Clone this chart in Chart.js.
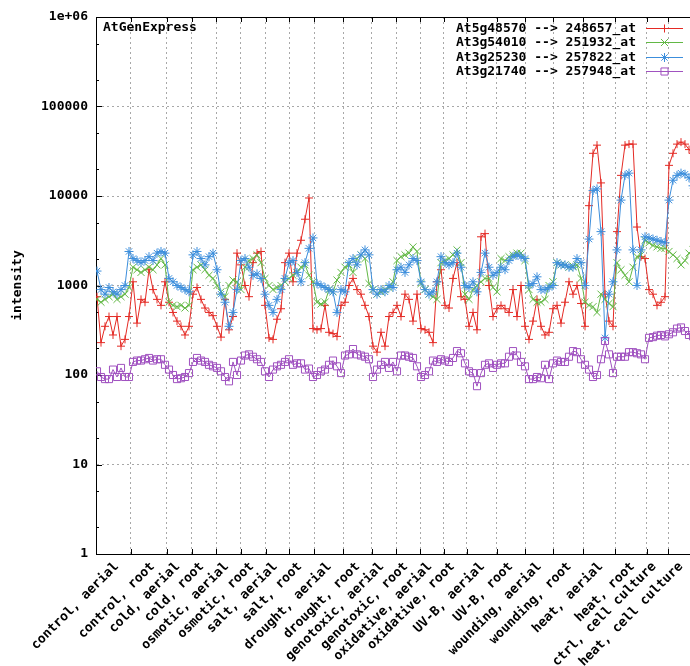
<!DOCTYPE html>
<html>
<head>
<meta charset="utf-8">
<script src="https://cdn.jsdelivr.net/npm/chart.js@4/dist/chart.umd.min.js"></script>
<style>
  html, body { margin: 0; padding: 0; background: #fff; overflow: hidden; }
  #wrap { position: relative; width: 720px; height: 666px; }
</style>
</head>
<body>
<div id="wrap"><canvas id="chart"></canvas></div>
<script>
// conditions shown on the x axis, and where each group ends (sample index)
const conditions = ["control, aerial", "control, root", "cold, aerial", "cold, root",
  "osmotic, aerial", "osmotic, root", "salt, aerial", "salt, root", "drought, aerial",
  "drought, root", "genotoxic, aerial", "genotoxic, root", "oxidative, aerial",
  "oxidative, root", "UV-B, aerial", "UV-B, root", "wounding, aerial", "wounding, root",
  "heat, aerial", "heat, root", "ctrl, cell culture", "heat, cell culture"];
const groupEnds = [8.4, 17.4, 23.7, 29.75, 35.9, 42.2, 48.1, 54.25, 61.6, 68.7, 74.75,
  80.75, 86.75, 92.4, 99.9, 107, 114.1, 121.6, 129.5, 137.4, 142.8, 149.5];

const yTicks = [1, 10, 100, 1000, 10000, 100000, 1000000];

const probeNames = ["At5g48570 --> 248657_at", "At3g54010 --> 251932_at",
  "At3g25230 --> 257822_at", "At3g21740 --> 257948_at"];

// intensities per sample
const at5g48570 = [
  750, 230, 350, 450, 280, 450, 210, 250, 450, 1100, 380, 700, 650, 1500, 900, 700, 600, 1100, 650, 500,
  400, 350, 280, 350, 800, 950, 700, 560, 500, 460, 350, 265, 700, 320, 450, 2300, 1700, 1000, 750, 1800,
  2300, 2400, 600, 260, 250, 420, 550, 1800, 2300, 1100, 2300, 3200, 5500, 9500, 330, 320, 330, 600, 300, 290,
  270, 600, 650, 1000, 1200, 900, 800, 600, 450, 210, 180, 300, 210, 450, 500, 600, 450, 800, 700, 400,
  800, 330, 320, 300, 230, 1100, 1500, 600, 560, 1200, 1800, 750, 700, 350, 500, 320, 3500, 3800, 1000, 450,
  550, 600, 550, 500, 900, 450, 1000, 350, 250, 400, 700, 350, 280, 300, 550, 600, 380, 650, 1100, 800,
  1000, 630, 350, 7800, 30000, 37000, 14000, 800, 400, 350, 4000, 17000, 37000, 38000, 38000, 4500, 2100, 2000, 900, 800,
  600, 650, 750, 22000, 30000, 38000, 40000, 38000, 33000, 30000];
const at3g54010 = [
  700, 650, 700, 750, 800, 700, 750, 800, 950, 1600, 1500, 1400, 1500, 1600, 1500, 1700, 2000, 1700, 650, 600,
  580, 600, 560, 600, 1500, 1600, 1700, 1500, 1300, 1200, 1000, 850, 750, 1000, 1150, 1100, 900, 1600, 1900, 2000,
  2200, 1800, 1200, 1000, 900, 950, 1000, 1100, 1200, 1300, 1400, 1600, 1700, 1300, 1100, 650, 620, 650, 900, 850,
  1150, 1400, 1600, 1700, 1400, 2000, 2200, 2000, 1050, 900, 800, 850, 900, 950, 1100, 1900, 2100, 2200, 2300, 2700,
  2400, 1050, 900, 800, 750, 700, 1800, 1900, 2000, 2200, 2500, 1800, 800, 700, 900, 1000, 1100, 1200, 1200, 950,
  850, 2000, 1900, 2100, 2200, 2300, 2300, 1900, 900, 700, 650, 650, 700, 1000, 1100, 1800, 1700, 1700, 1600, 1650,
  1700, 1200, 650, 600, 580, 500, 800, 700, 630, 580, 1800, 1500, 1300, 1100, 1600, 2100, 2200, 3200, 3000, 2800,
  2700, 2600, 2600, 2400, 2200, 2000, 1700, 1900, 2300, 2500];
const at3g25230 = [
  1450, 900, 800, 950, 850, 800, 900, 1000, 2400, 2000, 1900, 1800, 1900, 2100, 1900, 2300, 2400, 2300, 1200, 1100,
  1000, 950, 900, 850, 2200, 2400, 2000, 1700, 2100, 2300, 1500, 800, 650, 350, 500, 900, 1900, 2000, 1600, 1300,
  1350, 1200, 800, 600, 500, 700, 900, 1200, 1800, 1900, 1400, 1100, 1800, 2600, 3400, 1050, 1000, 950, 900, 850,
  500, 900, 850, 1800, 2000, 1700, 2200, 2500, 2200, 900, 800, 900, 850, 1000, 950, 1500, 1600, 1400, 1700, 2000,
  1900, 1100, 900, 800, 850, 1100, 2100, 1800, 1700, 1800, 2300, 1600, 1000, 950, 1100, 850, 1400, 2300, 1600, 1300,
  1400, 1600, 1500, 1900, 2100, 2200, 2100, 2000, 1000, 1050, 1250, 900, 900, 950, 1000, 1800, 1700, 1700, 1600, 1600,
  2000, 1800, 1000, 3300, 11500, 12000, 4000, 260, 800, 1100, 2500, 9000, 17000, 18000, 2500, 1000, 2500, 3500, 3400, 3300,
  3200, 3100, 3000, 9000, 15000, 17000, 18000, 17500, 16000, 13000];
const at3g21740 = [
  110, 95, 90, 90, 115, 95, 120, 95, 95, 140, 145, 145, 150, 155, 145, 150, 150, 130, 115, 100,
  90, 92, 95, 105, 140, 155, 145, 140, 130, 125, 120, 110, 95, 85, 140, 100, 145, 165, 170, 160,
  150, 140, 110, 95, 115, 125, 130, 140, 150, 130, 135, 135, 115, 118, 95, 100, 110, 115, 130, 145,
  125, 105, 165, 170, 195, 170, 165, 160, 150, 95, 115, 130, 140, 120, 140, 110, 165, 165, 160, 155,
  125, 95, 100, 110, 145, 140, 150, 145, 140, 155, 185, 175, 135, 110, 105, 75, 105, 130, 135, 120,
  130, 135, 135, 160, 185, 165, 140, 125, 90, 90, 95, 92, 130, 90, 135, 145, 140, 140, 160, 185,
  180, 150, 130, 115, 95, 100, 150, 240, 170, 105, 160, 160, 160, 180, 180, 175, 170, 150, 260, 265,
  275, 280, 270, 285, 300, 330, 340, 310, 280, 270];

const plotTitle = "AtGenExpress";

const font = { family: "'DejaVu Sans Mono', monospace", size: 13, weight: 'bold' };

function toPoints(values) {
  return values.map((v, i) => ({ x: i, y: v }));
}

// frame, inward tick marks, corner title and legend, gnuplot style
const decorations = {
  id: 'decorations',
  beforeDatasetsDraw(chart) {
    const { ctx, chartArea: a, scales } = chart;
    ctx.save();
    ctx.strokeStyle = '#000';
    ctx.lineWidth = 1;
    ctx.beginPath();
    groupEnds.forEach(v => {
      const x = Math.round(scales.x.getPixelForValue(v)) + 0.5;
      ctx.moveTo(x, a.bottom); ctx.lineTo(x, a.bottom - 5);
      ctx.moveTo(x, a.top); ctx.lineTo(x, a.top + 5);
    });
    yTicks.forEach(v => {
      const y = Math.round(scales.y.getPixelForValue(v)) + 0.5;
      ctx.moveTo(a.left, y); ctx.lineTo(a.left + 6, y);
      if (v < 1000000) {
        [2, 5].forEach(m => {
          const ym = Math.round(scales.y.getPixelForValue(v * m)) + 0.5;
          ctx.moveTo(a.left, ym); ctx.lineTo(a.left + 3, ym);
        });
      }
    });
    ctx.stroke();
    ctx.strokeRect(Math.round(a.left) + 0.5, Math.round(a.top) + 0.5,
      Math.round(a.right - a.left), Math.round(a.bottom - a.top));
    ctx.restore();
  },
  afterDraw(chart) {
    const { ctx, chartArea: a } = chart;
    ctx.save();
    ctx.font = `${font.weight} ${font.size}px ${font.family}`;
    ctx.fillStyle = '#000';
    ctx.textBaseline = 'middle';
    ctx.textAlign = 'left';
    ctx.fillText(plotTitle, a.left + 7, a.top + 11);

    const textRight = a.right - 68;
    const lineLeft = a.right - 58;
    const lineRight = a.right - 21;
    chart.data.datasets.forEach((ds, k) => {
      const y = Math.round(a.top + 11 + k * 14.4) + 0.5;
      ctx.fillStyle = '#000';
      ctx.textAlign = 'right';
      ctx.fillText(ds.label, textRight, y);
      ctx.strokeStyle = ds.borderColor;
      ctx.lineWidth = 1;
      ctx.beginPath();
      ctx.moveTo(lineLeft, y); ctx.lineTo(lineRight, y);
      ctx.stroke();
      ctx.fillStyle = 'rgba(0,0,0,0)';
      Chart.helpers.drawPoint(ctx, {
        pointStyle: ds.pointStyle, radius: ds.pointRadius, rotation: 0, borderWidth: 1
      }, (lineLeft + lineRight) / 2, y);
    });
    ctx.restore();
  }
};

function series(label, values, color, style, radius, order) {
  return {
    label: label,
    data: toPoints(values),
    borderColor: color,
    backgroundColor: 'rgba(0,0,0,0)',
    pointBorderColor: color,
    pointBackgroundColor: 'rgba(0,0,0,0)',
    borderWidth: 1,
    pointBorderWidth: 1,
    pointStyle: style,
    pointRadius: radius,
    tension: 0,
    order: order
  };
}

new Chart(document.getElementById('chart'), {
  type: 'line',
  data: {
    datasets: [
      series(probeNames[0], at5g48570, '#e42a24', 'cross', 4, 4),
      series(probeNames[1], at3g54010, '#62b845', 'crossRot', 5, 3),
      series(probeNames[2], at3g25230, '#3c8edc', 'star', 4.5, 2),
      series(probeNames[3], at3g21740, '#a052c0', 'rect', 5, 1)
    ]
  },
  options: {
    responsive: true,
    maintainAspectRatio: false,
    animation: false,
    layout: { padding: { top: 17, right: 16, left: 0, bottom: 0 } },
    plugins: { legend: { display: false }, tooltip: { enabled: false } },
    scales: {
      x: {
        type: 'linear',
        min: -0.25,
        max: 151.75,
        afterBuildTicks: axis => { axis.ticks = groupEnds.map(v => ({ value: v })); },
        afterFit: axis => { axis.height = 112; },
        grid: { color: '#a8a8a8', lineWidth: 1, drawTicks: false },
        border: { color: '#000', width: 1, dash: [2, 3] },
        ticks: {
          autoSkip: false,
          minRotation: 45,
          maxRotation: 45,
          padding: 5,
          labelOffset: -14,
          color: '#000',
          font: font,
          callback: (v, i) => conditions[i]
        }
      },
      y: {
        type: 'logarithmic',
        min: 1,
        max: 1000000,
        afterBuildTicks: axis => { axis.ticks = yTicks.map(v => ({ value: v })); },
        afterFit: axis => { axis.width = 96; },
        grid: { color: '#a8a8a8', lineWidth: 1, drawTicks: false },
        border: { color: '#000', width: 1, dash: [2, 3] },
        ticks: {
          padding: 8,
          color: '#000',
          font: font,
          callback: v => (v === 1000000 ? '1e+06' : String(v))
        },
        title: {
          display: true,
          text: 'intensity',
          color: '#000',
          font: font,
          padding: { top: 10, bottom: 0 }
        }
      }
    }
  },
  plugins: [decorations]
});
</script>
</body>
</html>
